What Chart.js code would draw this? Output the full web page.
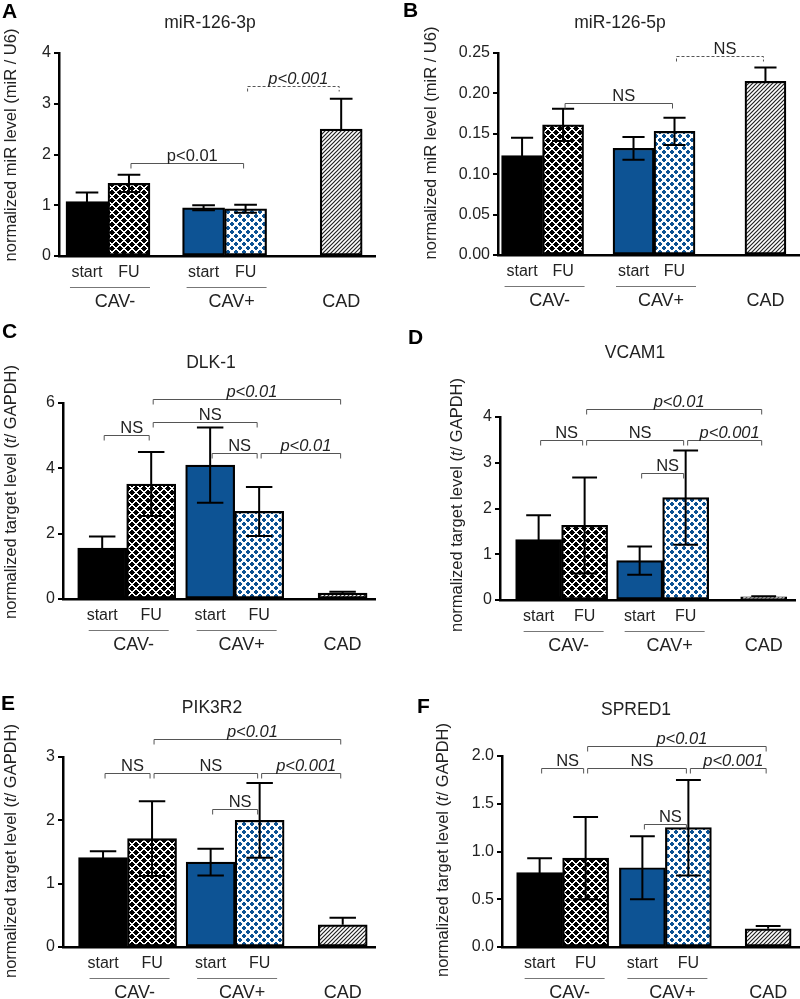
<!DOCTYPE html>
<html>
<head>
<meta charset="utf-8">
<script src="https://cdn.jsdelivr.net/npm/chart.js@4.4.1/dist/chart.umd.min.js"></script>
<style>
  html, body { margin: 0; padding: 0; background: #fff; }
  #figure { position: relative; width: 800px; height: 999px; overflow: hidden; }
  #figure canvas { position: absolute; }
</style>
</head>
<body>
<div id="figure">
  <canvas id="chartA" width="400" height="320" style="left:0;top:0"></canvas>
  <canvas id="chartB" width="400" height="320" style="left:400px;top:0"></canvas>
  <canvas id="chartC" width="400" height="340" style="left:0;top:320px"></canvas>
  <canvas id="chartD" width="400" height="340" style="left:400px;top:320px"></canvas>
  <canvas id="chartE" width="400" height="339" style="left:0;top:660px"></canvas>
  <canvas id="chartF" width="400" height="339" style="left:400px;top:660px"></canvas>
</div>

<script>
  // categories
  const groups = ['CAV-', 'CAV+', 'CAD'];
  const visits = ['start', 'FU'];

  // bar order: CAV- start, CAV- FU, CAV+ start, CAV+ FU, CAD
  const mir3pMean = [1.07, 1.43, 0.95, 0.93, 2.50];
  const mir3pErr = [0.18, 0.17, 0.05, 0.08, 0.60];
  const mir3pTicks = [0, 1, 2, 3, 4];
  const mir3pBrackets = [[1, 3, 1.83, 'p<0.01'], [3, 4, 3.35, 'p<0.001']];

  const mir5pMean = [0.123, 0.161, 0.132, 0.153, 0.215];
  const mir5pErr = [0.022, 0.020, 0.014, 0.017, 0.017];
  const mir5pTicks = [0, 0.05, 0.10, 0.15, 0.20, 0.25];
  const mir5pBrackets = [[1, 3, 0.188, 'NS'], [3, 4, 0.246, 'NS']];

  const dlkMean = [1.56, 3.52, 4.10, 2.68, 0.18];
  const dlkErr = [0.35, 0.98, 1.15, 0.75, 0.04];
  const dlkTicks = [0, 2, 4, 6];
  const dlkBrackets = [[0, 1, 5.02, 'NS'], [1, 3, 5.41, 'NS'], [1, 4, 6.12, 'p<0.01'], [2, 3, 4.46, 'NS'], [3, 4, 4.46, 'p<0.01']];

  const vcamMean = [1.32, 1.63, 0.86, 2.24, 0.07];
  const vcamErr = [0.53, 1.05, 0.31, 1.03, 0.01];
  const vcamTicks = [0, 1, 2, 3, 4];
  const vcamBrackets = [[0, 1, 3.49, 'NS'], [1, 3, 3.49, 'NS'], [1, 4, 4.17, 'p<0.01'], [3, 4, 3.49, 'p<0.001'], [2, 3, 2.77, 'NS']];

  const pikMean = [1.41, 1.71, 1.34, 2.00, 0.35];
  const pikErr = [0.10, 0.59, 0.21, 0.59, 0.11];
  const pikTicks = [0, 1, 2, 3];
  const pikBrackets = [[0, 1, 2.75, 'NS'], [1, 3, 2.75, 'NS'], [1, 4, 3.29, 'p<0.01'], [3, 4, 2.75, 'p<0.001'], [2, 3, 2.18, 'NS']];

  const spredMean = [0.78, 0.93, 0.83, 1.25, 0.19];
  const spredErr = [0.15, 0.43, 0.33, 0.50, 0.03];
  const spredTicks = [0, 0.5, 1.0, 1.5, 2.0];
  const spredBrackets = [[0, 1, 1.87, 'NS'], [1, 3, 1.87, 'NS'], [1, 4, 2.10, 'p<0.01'], [3, 4, 1.87, 'p<0.001'], [2, 3, 1.29, 'NS']];


  // styles
  const FONT = '"Liberation Sans", Arial, Helvetica, sans-serif';
  const BLACK = '#000000';
  const BLUE = '#0d5394';
  Chart.defaults.font.family = FONT;
  Chart.defaults.color = '#222';

  // pixel diamonds on an 8px tile: one in the middle, one on the corners
  function makeDots(rows, color) {
    const c = document.createElement('canvas');
    c.width = c.height = 8;
    const g = c.getContext('2d');
    g.fillStyle = '#fff';
    g.fillRect(0, 0, 8, 8);
    g.fillStyle = color;
    [[4, 4], [0, 0]].forEach(function (ctr) {
      rows.forEach(function (w, i) {
        const yy = (ctr[1] - Math.floor(rows.length / 2) + i + 8) % 8;
        for (let dx = 0; dx < w; dx++) {
          const xx = (ctr[0] - w / 2 + dx + 8) % 8;
          g.fillRect(xx, yy, 1, 1);
        }
      });
    });
    return g.createPattern(c, 'repeat');
  }
  function makeHatch() {
    const c = document.createElement('canvas');
    c.width = c.height = 4;
    const g = c.getContext('2d');
    g.fillStyle = '#fff';
    g.fillRect(0, 0, 4, 4);
    g.strokeStyle = '#222';
    g.lineWidth = 1.2;
    g.beginPath();
    g.moveTo(0, 4); g.lineTo(4, 0);
    g.moveTo(-1, 1); g.lineTo(1, -1);
    g.moveTo(3, 5); g.lineTo(5, 3);
    g.stroke();
    return g.createPattern(c, 'repeat');
  }
  const blackDots = makeDots([2, 4, 6, 4, 2], BLACK);
  const blueDots = makeDots([2, 4, 4, 2], BLUE);
  const hatch = makeHatch();
  const fills = [[BLACK, BLUE, BLACK], [blackDots, blueDots, blackDots], [hatch, hatch, hatch]];

  // bar k -> [dataset, group]
  const barSlots = [[0, 0], [1, 0], [0, 1], [1, 1], [2, 2]];

  const yTitleMiR = [['normalized miR level (miR / U6)', false]];
  const yTitleTarget = [['normalized target level (', false], ['t', true], ['/ GAPDH)', false]];

  // panels
  const panels = [
    { id: 'chartA', letter: 'A', title: 'miR-126-3p', mean: mir3pMean, err: mir3pErr, ticks: mir3pTicks, brackets: mir3pBrackets, dec: 0,
      styles: ['', 'dashed italic'], yTitle: yTitleMiR,
      w: 400, h: 320, axisX: 59, plotTop: 53, plotBottom: 256, plotRight: 375, bar: 42, xMin: -0.42, xMax: 2.29,
      letterPos: [2, 12], titlePos: [210, 23], yTitlePos: [11, 145] },
    { id: 'chartB', letter: 'B', title: 'miR-126-5p', mean: mir5pMean, err: mir5pErr, ticks: mir5pTicks, brackets: mir5pBrackets, dec: 2,
      styles: ['', 'dashed'], yTitle: yTitleMiR,
      w: 400, h: 320, axisX: 98, plotTop: 53, plotBottom: 255, plotRight: 400, bar: 41, xMin: -0.40, xMax: 2.31,
      letterPos: [3, 11], titlePos: [220, 23], yTitlePos: [31, 143] },
    { id: 'chartC', letter: 'C', title: 'DLK-1', mean: dlkMean, err: dlkErr, ticks: dlkTicks, brackets: dlkBrackets, dec: 0,
      styles: ['', '', 'italic', '', 'italic'], yTitle: yTitleTarget,
      w: 400, h: 340, axisX: 63, plotTop: 83, plotBottom: 279, plotRight: 375, bar: 49, xMin: -0.59, xMax: 2.30,
      letterPos: [2, 12], titlePos: [211, 43], yTitlePos: [11, 172] },
    { id: 'chartD', letter: 'D', title: 'VCAM1', mean: vcamMean, err: vcamErr, ticks: vcamTicks, brackets: vcamBrackets, dec: 0,
      styles: ['', '', 'italic', 'italic', ''], yTitle: yTitleTarget,
      w: 400, h: 340, axisX: 100, plotTop: 97, plotBottom: 280, plotRight: 395, bar: 46, xMin: -0.61, xMax: 2.31,
      letterPos: [8, 18], titlePos: [235, 33], yTitlePos: [57, 185] },
    { id: 'chartE', letter: 'E', title: 'PIK3R2', mean: pikMean, err: pikErr, ticks: pikTicks, brackets: pikBrackets, dec: 0,
      styles: ['', '', 'italic', 'italic', ''], yTitle: yTitleTarget,
      w: 400, h: 339, axisX: 63, plotTop: 97, plotBottom: 287, plotRight: 375, bar: 49, xMin: -0.60, xMax: 2.30,
      letterPos: [1, 44], titlePos: [212, 48], yTitlePos: [11, 191] },
    { id: 'chartF', letter: 'F', title: 'SPRED1', mean: spredMean, err: spredErr, ticks: spredTicks, brackets: spredBrackets, dec: 1,
      styles: ['', '', 'italic', 'italic', ''], yTitle: yTitleTarget,
      w: 400, h: 339, axisX: 102, plotTop: 96, plotBottom: 287, plotRight: 400, bar: 46, xMin: -0.59, xMax: 2.31,
      letterPos: [17, 47], titlePos: [236, 50], yTitlePos: [43, 190] }
  ];


  // functions
  function barEl(chart, k) {
    return chart.getDatasetMeta(barSlots[k][0]).data[barSlots[k][1]];
  }

  function buildDatasets(p) {
    return [visits[0], visits[1], groups[2]].map(function (label, d) {
      return {
        label: label,
        data: groups.map(function (g, gi) {
          const k = barSlots.findIndex(function (s) { return s[0] === d && s[1] === gi; });
          return { x: gi, y: k < 0 ? null : p.mean[k] };
        }),
        backgroundColor: fills[d],
        borderColor: '#000',
        borderWidth: 2.2,
        borderSkipped: false,
        skipNull: true,
        barThickness: p.bar
      };
    });
  }

  function text(ctx, str, x, y, size, opts) {
    opts = opts || {};
    ctx.font = (opts.italic ? 'italic ' : '') + (opts.bold ? 'bold ' : '') + size + 'px ' + FONT;
    ctx.fillStyle = opts.color || '#222';
    ctx.textAlign = opts.align || 'center';
    ctx.textBaseline = opts.baseline || 'middle';
    ctx.fillText(str, x, y);
  }

  function decoPlugin(p) {
    return {
      id: 'deco' + p.letter,
      afterDatasetsDraw: function (chart) {
        // error bars
        const ctx = chart.ctx;
        const y = chart.scales.y;
        ctx.save();
        ctx.strokeStyle = '#000';
        ctx.lineWidth = 2;
        p.err.forEach(function (e, k) {
          const el = barEl(chart, k);
          const m = p.mean[k];
          const cap = p.bar * 0.27;
          const top = y.getPixelForValue(m + e);
          const bot = k === 4 ? el.y : y.getPixelForValue(m - e);
          ctx.beginPath();
          ctx.moveTo(el.x, bot);
          ctx.lineTo(el.x, top);
          ctx.moveTo(el.x - cap, top);
          ctx.lineTo(el.x + cap, top);
          if (k !== 4) {
            ctx.moveTo(el.x - cap, bot);
            ctx.lineTo(el.x + cap, bot);
          }
          ctx.stroke();
        });
        ctx.restore();
      },
      afterDraw: function (chart) {
        const ctx = chart.ctx;
        const y = chart.scales.y;
        const base = chart.chartArea.bottom;
        ctx.save();

        // panel letter, title
        text(ctx, p.letter, p.letterPos[0], p.letterPos[1], 21, { bold: true, align: 'left', color: '#000' });
        text(ctx, p.title, p.titlePos[0], p.titlePos[1], 17.5);

        // y axis title
        ctx.save();
        ctx.translate(p.yTitlePos[0], p.yTitlePos[1]);
        ctx.rotate(-Math.PI / 2);
        let total = 0;
        p.yTitle.forEach(function (part) {
          ctx.font = (part[1] ? 'italic ' : '') + '16.5px ' + FONT;
          total += ctx.measureText(part[0]).width;
        });
        let cx = -total / 2;
        p.yTitle.forEach(function (part) {
          text(ctx, part[0], cx, 0, 16.5, { italic: part[1], align: 'left' });
          cx += ctx.measureText(part[0]).width;
        });
        ctx.restore();

        // x labels
        for (let k = 0; k < 4; k++) {
          text(ctx, visits[k % 2], barEl(chart, k).x, base + 17, 16);
        }
        ctx.strokeStyle = '#777';
        ctx.lineWidth = 1;
        for (let gi = 0; gi < 2; gi++) {
          const c = (barEl(chart, gi * 2).x + barEl(chart, gi * 2 + 1).x) / 2;
          ctx.beginPath();
          ctx.moveTo(c - 38, base + 31.5);
          ctx.lineTo(c + 42, base + 31.5);
          ctx.stroke();
          text(ctx, groups[gi], c + 7, base + 46, 18);
        }
        text(ctx, groups[2], barEl(chart, 4).x, base + 46, 18);

        // significance brackets
        p.brackets.forEach(function (b, i) {
          const st = p.styles[i] || '';
          const x1 = barEl(chart, b[0]).x + 2;
          const x2 = barEl(chart, b[1]).x - 2;
          const yy = Math.round(y.getPixelForValue(b[2])) + 0.5;
          ctx.save();
          ctx.strokeStyle = '#555';
          ctx.lineWidth = 1;
          if (st.indexOf('dashed') >= 0) ctx.setLineDash([3, 2]);
          ctx.beginPath();
          ctx.moveTo(x1, yy + 5);
          ctx.lineTo(x1, yy);
          ctx.lineTo(x2, yy);
          ctx.lineTo(x2, yy + 5);
          ctx.stroke();
          ctx.restore();
          text(ctx, b[3], (x1 + x2) / 2 + 5, yy - 3, 16.5, { italic: st.indexOf('italic') >= 0, baseline: 'alphabetic' });
        });
        ctx.restore();
      }
    };
  }

  function createChart(p) {
    const tickMax = p.ticks[p.ticks.length - 1];
    return new Chart(document.getElementById(p.id).getContext('2d'), {
      type: 'bar',
      data: { datasets: buildDatasets(p) },
      options: {
        responsive: false,
        animation: false,
        layout: {
          padding: { left: 0, top: p.plotTop, right: p.w - p.plotRight, bottom: p.h - p.plotBottom }
        },
        plugins: { legend: false, title: false, tooltip: false },
        scales: {
          x: {
            type: 'linear',
            min: p.xMin,
            max: p.xMax,
            offset: false,
            grid: { display: false, drawTicks: false },
            border: { display: true, color: '#000', width: 2.5 },
            ticks: { display: false },
            afterFit: function (s) { s.height = 0; }
          },
          y: {
            min: 0,
            max: tickMax,
            afterBuildTicks: function (s) {
              s.ticks = p.ticks.map(function (v) { return { value: v }; });
            },
            ticks: {
              color: '#222',
              font: { size: 16 },
              padding: 3,
              callback: function (v) { return Number(v).toFixed(p.dec); }
            },
            grid: { display: true, drawOnChartArea: false, drawTicks: true, tickLength: 5, color: '#000', lineWidth: 2 },
            border: { display: true, color: '#000', width: 2.5 },
            afterFit: function (s) { s.width = p.axisX; }
          }
        }
      },
      plugins: [decoPlugin(p)]
    });
  }


  // charts
  panels.forEach(createChart);
</script>
</body>
</html>
